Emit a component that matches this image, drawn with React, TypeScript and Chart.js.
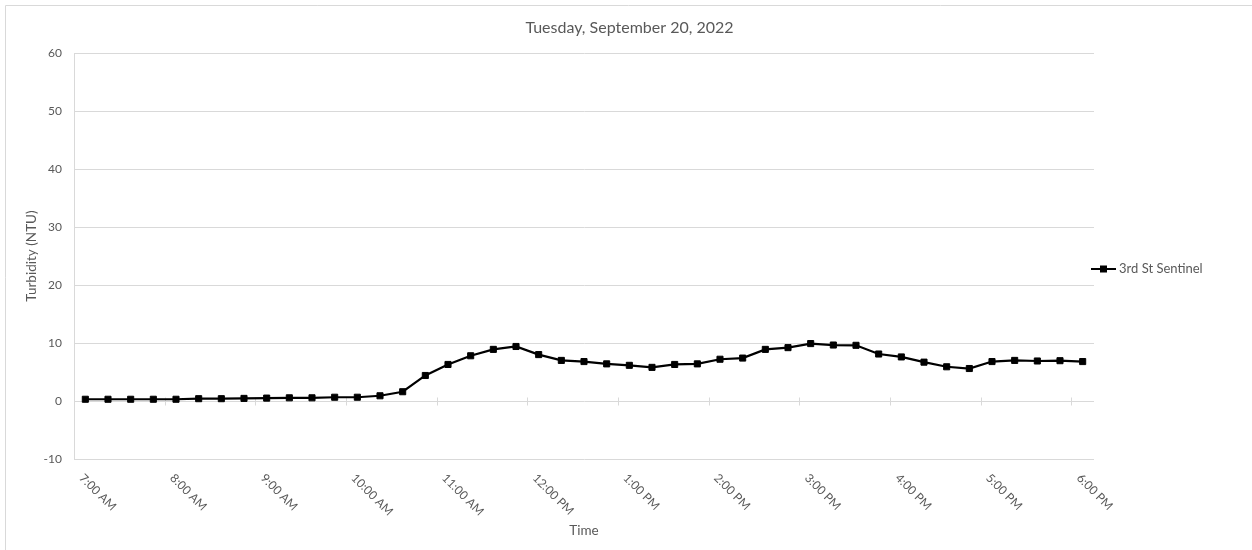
import React, { useEffect, useRef } from 'react';
import { Chart, registerables } from 'chart.js';

Chart.register(...registerables);

const chartTitle = 'Tuesday, September 20, 2022';
const seriesLabel = '3rd St Sentinel';
const yAxisTitle = 'Turbidity (NTU)';
const xAxisTitle = 'Time';

const categories = [
  '7:00 AM', '7:15 AM', '7:30 AM', '7:45 AM',
  '8:00 AM', '8:15 AM', '8:30 AM', '8:45 AM',
  '9:00 AM', '9:15 AM', '9:30 AM', '9:45 AM',
  '10:00 AM', '10:15 AM', '10:30 AM', '10:45 AM',
  '11:00 AM', '11:15 AM', '11:30 AM', '11:45 AM',
  '12:00 PM', '12:15 PM', '12:30 PM', '12:45 PM',
  '1:00 PM', '1:15 PM', '1:30 PM', '1:45 PM',
  '2:00 PM', '2:15 PM', '2:30 PM', '2:45 PM',
  '3:00 PM', '3:15 PM', '3:30 PM', '3:45 PM',
  '4:00 PM', '4:15 PM', '4:30 PM', '4:45 PM',
  '5:00 PM', '5:15 PM', '5:30 PM', '5:45 PM',
  '6:00 PM',
];

const turbidity = [
  0.3, 0.3, 0.3, 0.3,
  0.3, 0.4, 0.4, 0.45,
  0.5, 0.55, 0.55, 0.65,
  0.65, 0.9, 1.6, 4.4,
  6.3, 7.8, 8.9, 9.4,
  8.0, 7.0, 6.8, 6.4,
  6.15, 5.8, 6.3, 6.4,
  7.2, 7.4, 8.9, 9.2,
  9.9, 9.65, 9.6, 8.1,
  7.6, 6.7, 5.9, 5.6,
  6.8, 7.0, 6.9, 6.95,
  6.8,
];

const tickLabels = [
  '7:00 AM', '8:00 AM', '9:00 AM', '10:00 AM', '11:00 AM', '12:00 PM',
  '1:00 PM', '2:00 PM', '3:00 PM', '4:00 PM', '5:00 PM', '6:00 PM',
];

const yMin = -10;
const yMax = 60;
const yStep = 10;

const FONT = 'Lato, "Open Sans", sans-serif';
const TEXT = '#595959';
const GRID = '#d9d9d9';

const excelPlugin = {
  id: 'excelDecor',
  beforeDraw(chart: any) {
    const ctx = chart.ctx;
    ctx.save();
    ctx.strokeStyle = GRID;
    ctx.lineWidth = 1;
    ctx.beginPath();
    ctx.moveTo(5.5, chart.height);
    ctx.lineTo(5.5, 5.5);
    ctx.lineTo(chart.width, 5.5);
    ctx.stroke();
    ctx.restore();
  },
  beforeDatasetsDraw(chart: any) {
    const ctx = chart.ctx;
    const xs = chart.scales.x;
    const ys = chart.scales.y;
    const y0 = Math.round(ys.getPixelForValue(0)) + 0.5;
    ctx.save();
    ctx.strokeStyle = GRID;
    ctx.lineWidth = 1;
    ctx.beginPath();
    for (let k = 1; k < tickLabels.length; k++) {
      const idx = categories.indexOf(tickLabels[k]);
      const px = Math.round((xs.getPixelForValue(idx - 1) + xs.getPixelForValue(idx)) / 2) + 0.5;
      ctx.moveTo(px, y0 - 4);
      ctx.lineTo(px, y0 + 4);
    }
    ctx.stroke();
    ctx.restore();
  },
  afterDraw(chart: any) {
    const ctx = chart.ctx;
    const xs = chart.scales.x;
    const area = chart.chartArea;
    ctx.save();
    // x tick labels, rotated 45deg clockwise (Excel style)
    ctx.fillStyle = TEXT;
    ctx.font = `12px ${FONT}`;
    ctx.textAlign = 'left';
    ctx.textBaseline = 'middle';
    tickLabels.forEach((lab) => {
      const idx = categories.indexOf(lab);
      const px = xs.getPixelForValue(idx);
      ctx.save();
      ctx.translate(px - 4, area.bottom + 17);
      ctx.rotate(Math.PI / 4);
      ctx.fillText(lab, 0, 0);
      ctx.restore();
    });
    // legend
    const ds = chart.data.datasets[0];
    const lx = area.right - 3;
    const ly = (area.top + area.bottom) / 2 + 13;
    ctx.strokeStyle = ds.borderColor;
    ctx.lineWidth = 2;
    ctx.beginPath();
    ctx.moveTo(lx, ly);
    ctx.lineTo(lx + 25, ly);
    ctx.stroke();
    ctx.fillStyle = ds.pointBackgroundColor;
    ctx.fillRect(lx + 9, ly - 3.5, 7, 7);
    ctx.fillStyle = TEXT;
    ctx.font = `13px ${FONT}`;
    ctx.textAlign = 'left';
    ctx.textBaseline = 'middle';
    ctx.fillText(ds.label, lx + 28, ly);
    ctx.restore();
  },
};

export default function App() {
  const ref = useRef<HTMLCanvasElement | null>(null);

  useEffect(() => {
    if (!ref.current) return;
    const chart = new Chart(ref.current, {
      type: 'line',
      data: {
        labels: categories,
        datasets: [
          {
            label: seriesLabel,
            data: turbidity,
            borderColor: '#000000',
            backgroundColor: '#000000',
            borderWidth: 2.2,
            tension: 0,
            pointStyle: 'rect',
            pointRadius: 4.3,
            pointBorderWidth: 1,
            pointBackgroundColor: '#000000',
            pointBorderColor: '#000000',
          },
        ],
      },
      options: {
        animation: false,
        responsive: false,
        events: [],
        layout: { padding: { left: 7, right: 0, top: 0, bottom: 0 } },
        plugins: {
          legend: { display: false },
          tooltip: { enabled: false },
          title: {
            display: true,
            text: chartTitle,
            color: TEXT,
            font: { family: FONT, size: 16, weight: 'normal', lineHeight: 1.2 },
            padding: { top: 18.4, bottom: 15.4 },
          },
        },
        scales: {
          x: {
            type: 'category',
            offset: true,
            grid: { display: false, drawTicks: false, offset: true },
            border: { display: false },
            ticks: { display: false, autoSkip: false },
            title: {
              display: true,
              text: xAxisTitle,
              color: TEXT,
              font: { family: FONT, size: 13.5, weight: 'normal', lineHeight: 1.2 },
              padding: { top: 0, bottom: 10.9 },
            },
            afterFit: (s: any) => {
              s.height = 91;
            },
          },
          y: {
            min: yMin,
            max: yMax,
            ticks: {
              stepSize: yStep,
              padding: 12,
              color: TEXT,
              font: { family: FONT, size: 12 },
            },
            grid: { color: GRID, lineWidth: 1, drawTicks: false },
            border: { display: true, color: GRID, width: 1 },
            title: {
              display: true,
              text: yAxisTitle,
              color: TEXT,
              font: { family: FONT, size: 13.5, weight: 'normal', lineHeight: 1.2 },
              padding: { top: 16.9, bottom: 0 },
            },
            afterFit: (s: any) => {
              s.width = 67;
            },
          },
          legendSpace: {
            type: 'linear',
            position: 'right',
            display: true,
            grid: { display: false, drawTicks: false },
            border: { display: false },
            ticks: { display: false },
            title: { display: false },
            afterFit: (s: any) => {
              s.width = 158;
            },
          },
        },
      },
      plugins: [excelPlugin],
    });
    return () => chart.destroy();
  }, []);

  return (
    <div style={{ position: 'fixed', left: 0, top: 0, width: 1252, height: 550, background: '#ffffff' }}>
      <canvas ref={ref} width={1252} height={550} style={{ width: 1252, height: 550, display: 'block' }} />
    </div>
  );
}
